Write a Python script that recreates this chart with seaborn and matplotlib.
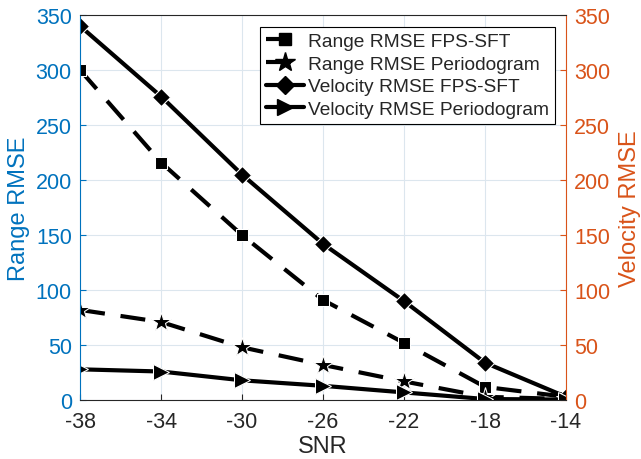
import pandas as pd
import seaborn as sns
import matplotlib.pyplot as plt
from matplotlib.lines import Line2D

# Datos
snr = [-38, -34, -30, -26, -22, -18, -14]
range_fps = [300, 216, 150, 91, 52, 12, 3]
range_per = [82, 71, 48, 32, 17, 3, 1]
vel_fps = [340, 276, 205, 142, 90, 34, 3]
vel_per = [28, 26, 18, 13, 7, 1, 0.5]

df = pd.DataFrame({"SNR": snr, "range_fps": range_fps, "range_per": range_per,
                   "vel_fps": vel_fps, "vel_per": vel_per})

sns.set_style("ticks")
plt.rcParams["font.family"] = ["Liberation Sans", "DejaVu Sans"]
plt.rcParams["axes.unicode_minus"] = False

azul = "#0072BD"
naranja = "#D95319"

fig = plt.figure(figsize=(6.41, 4.6), dpi=100)
ax = fig.add_axes([0.125, 0.128, 0.758, 0.837])
ax2 = ax.twinx()

lw = 3
guion = (0, (6, 3.8))
series = [
    (ax, "range_fps", "s", 8, guion, "Range RMSE FPS-SFT"),
    (ax, "range_per", "*", 15, guion, "Range RMSE Periodogram"),
    (ax2, "vel_fps", "D", 9, "-", "Velocity RMSE FPS-SFT"),
    (ax2, "vel_per", ">", 11, "-", "Velocity RMSE Periodogram"),
]
handles = []
for a, col, mk, ms, ls, lab in series:
    sns.lineplot(x="SNR", y=col, data=df, ax=a, color="black", lw=lw,
                 marker=mk, markersize=ms, linestyle=ls, legend=False)
    handles.append(Line2D([], [], color="black", lw=lw, marker=mk,
                          markersize=ms, linestyle=ls, label=lab))

for a in (ax, ax2):
    a.set_xlim(-38, -14)
    a.set_ylim(0, 350)
    a.set_yticks(range(0, 351, 50))
    a.tick_params(direction="in", length=4, labelsize=15.5)

ax.set_xticks(snr)
ax.tick_params(axis="x", pad=8)
ax.tick_params(axis="y", pad=6)
ax2.tick_params(axis="y", pad=6)
ax.grid(True, color="#DCE6EE", lw=0.8)
ax.set_axisbelow(True)
ax.set_xlabel("SNR", fontsize=17, color="#262626", labelpad=2)
ax.set_ylabel("Range RMSE", fontsize=17, color=azul, labelpad=4)
ax2.set_ylabel("Velocity RMSE", fontsize=17, color=naranja, labelpad=6)
ax.tick_params(axis="y", colors=azul)
ax.tick_params(axis="x", colors="#262626")
ax2.tick_params(axis="y", colors=naranja)
ax2.spines["left"].set_color(azul)
ax2.spines["right"].set_color(naranja)
ax2.spines["top"].set_color("#262626")
ax2.spines["bottom"].set_color("#262626")
for s in ax.spines.values():
    s.set_visible(False)

leg = ax2.legend(handles=handles, loc="upper right", fontsize=13.8,
                 fancybox=False, edgecolor="black", framealpha=1,
                 handlelength=2.0, handletextpad=0.2, borderpad=0.3,
                 labelspacing=0.28, borderaxespad=0.6)
leg.get_frame().set_linewidth(0.8)

plt.savefig("out.png", dpi=100)
plt.close()
